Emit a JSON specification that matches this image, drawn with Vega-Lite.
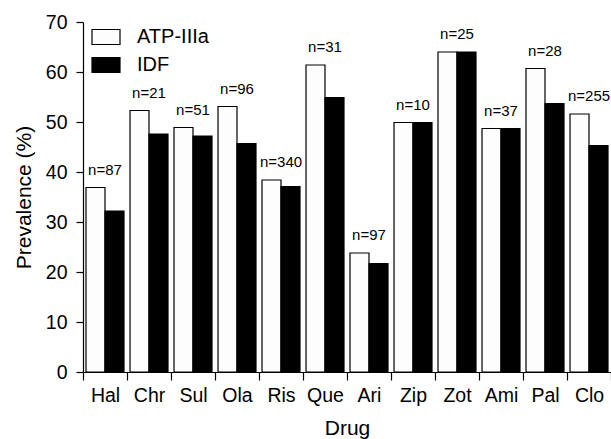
{
  "$schema": "https://vega.github.io/schema/vega-lite/v6.json",
  "width": 528,
  "height": 350,
  "autosize": "none",
  "padding": {"left": 83, "top": 22, "right": 0, "bottom": 67},
  "background": "white",
  "config": {
    "font": "Liberation Sans",
    "view": {"stroke": null},
    "axis": {"domainColor": "black", "tickColor": "black", "labelColor": "black", "titleColor": "black", "grid": false, "titleFontWeight": "normal", "domainWidth": 1.2, "tickWidth": 1.2}
  },
  "data": {
    "values": [
      {"drug": "Hal", "group": "ATP-IIIa", "value": 36.9, "n": "n=87"},
      {"drug": "Hal", "group": "IDF", "value": 32.2, "n": "n=87"},
      {"drug": "Chr", "group": "ATP-IIIa", "value": 52.3, "n": "n=21"},
      {"drug": "Chr", "group": "IDF", "value": 47.6, "n": "n=21"},
      {"drug": "Sul", "group": "ATP-IIIa", "value": 48.9, "n": "n=51"},
      {"drug": "Sul", "group": "IDF", "value": 47.2, "n": "n=51"},
      {"drug": "Ola", "group": "ATP-IIIa", "value": 53.1, "n": "n=96"},
      {"drug": "Ola", "group": "IDF", "value": 45.7, "n": "n=96"},
      {"drug": "Ris", "group": "ATP-IIIa", "value": 38.4, "n": "n=340"},
      {"drug": "Ris", "group": "IDF", "value": 37.1, "n": "n=340"},
      {"drug": "Que", "group": "ATP-IIIa", "value": 61.4, "n": "n=31"},
      {"drug": "Que", "group": "IDF", "value": 54.9, "n": "n=31"},
      {"drug": "Ari", "group": "ATP-IIIa", "value": 23.8, "n": "n=97"},
      {"drug": "Ari", "group": "IDF", "value": 21.7, "n": "n=97"},
      {"drug": "Zip", "group": "ATP-IIIa", "value": 49.9, "n": "n=10"},
      {"drug": "Zip", "group": "IDF", "value": 49.9, "n": "n=10"},
      {"drug": "Zot", "group": "ATP-IIIa", "value": 64.0, "n": "n=25"},
      {"drug": "Zot", "group": "IDF", "value": 64.0, "n": "n=25"},
      {"drug": "Ami", "group": "ATP-IIIa", "value": 48.7, "n": "n=37"},
      {"drug": "Ami", "group": "IDF", "value": 48.7, "n": "n=37"},
      {"drug": "Pal", "group": "ATP-IIIa", "value": 60.7, "n": "n=28"},
      {"drug": "Pal", "group": "IDF", "value": 53.7, "n": "n=28"},
      {"drug": "Clo", "group": "ATP-IIIa", "value": 51.6, "n": "n=255"},
      {"drug": "Clo", "group": "IDF", "value": 45.3, "n": "n=255"}
    ]
  },
  "encoding": {
    "x": {
      "field": "drug", "type": "nominal", "sort": null,
      "scale": {"paddingInner": 0, "paddingOuter": 0},
      "axis": {"title": "Drug", "labelAngle": 0, "labelFontSize": 19.5, "titleFontSize": 21, "tickSize": 8, "labelPadding": 6, "titlePadding": 13, "tickBand": "extent"}
    }
  },
  "layer": [
    {
      "mark": {"type": "bar", "stroke": "black", "strokeWidth": 1.2},
      "encoding": {
        "xOffset": {"field": "group", "type": "nominal", "scale": {"paddingInner": 0, "paddingOuter": 0.158}},
        "y": {
          "field": "value", "type": "quantitative",
          "scale": {"domain": [0, 70], "nice": false},
          "axis": {"title": "Prevalence (%)", "values": [0, 10, 20, 30, 40, 50, 60, 70], "labelFontSize": 19.5, "titleFontSize": 21, "tickSize": 7, "labelPadding": 9, "titlePadding": 11}
        },
        "fill": {
          "field": "group", "type": "nominal",
          "scale": {"domain": ["ATP-IIIa", "IDF"], "range": ["#fdfdfd", "#000000"]},
          "legend": {
            "title": null, "orient": "none", "legendX": 8, "legendY": 0,
            "symbolType": "M-1,-0.536L1,-0.536L1,0.536L-1,0.536Z",
            "symbolSize": 784, "symbolStrokeColor": "black", "symbolStrokeWidth": 1.2,
            "labelFontSize": 20, "labelColor": "black", "labelOffset": 16, "rowPadding": 3
          }
        }
      }
    },
    {
      "transform": [{"aggregate": [{"op": "max", "field": "value", "as": "top"}], "groupby": ["drug", "n"]}],
      "mark": {"type": "text", "fontSize": 15, "baseline": "alphabetic", "dy": -13, "color": "black"},
      "encoding": {
        "y": {"field": "top", "type": "quantitative"},
        "text": {"field": "n", "type": "nominal"}
      }
    }
  ]
}
